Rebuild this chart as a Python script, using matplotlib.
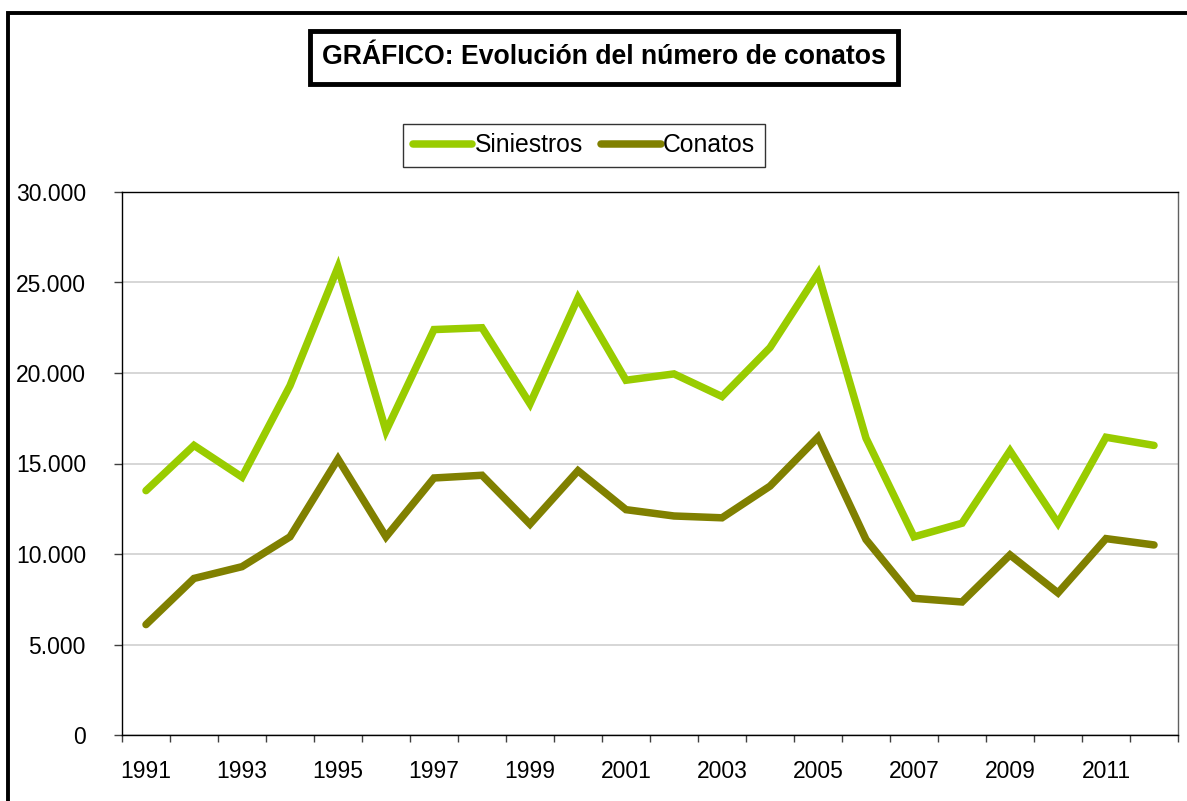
import matplotlib
matplotlib.use("Agg")
import matplotlib.pyplot as plt
import numpy as np
from matplotlib.patches import Rectangle
from matplotlib.ticker import FuncFormatter, FixedLocator

plt.rcParams['font.family'] = ['Liberation Sans', 'DejaVu Sans']

years = list(range(1991, 2013))
siniestros = [13500, 16000, 14250, 19300, 25850, 16800, 22400, 22500, 18300, 24150,
              19600, 19950, 18700, 21400, 25500, 16400, 10950, 11700, 15700, 11700,
              16450, 16000]
conatos = [6100, 8650, 9300, 10950, 15250, 10950, 14200, 14350, 11650, 14600,
           12450, 12100, 12000, 13750, 16450, 10800, 7550, 7350, 9950, 7850,
           10850, 10500]
series_names = ["Siniestros", "Conatos"]
title = "GRÁFICO: Evolución del número de conatos"

W, H = 1187, 801
fig = plt.figure(figsize=(W / 100, H / 100), dpi=100)
ax = fig.add_axes([122 / W, 1 - 735 / H, (1178 - 122) / W, (735 - 192) / H])

x = np.arange(len(years)) + 0.5
l1, = ax.plot(x, siniestros, color="#99CC00", lw=5.4, solid_joinstyle="miter",
              solid_capstyle="round", label=series_names[0], zorder=3)
l2, = ax.plot(x, conatos, color="#808000", lw=5.4, solid_joinstyle="miter",
              solid_capstyle="round", label=series_names[1], zorder=3)

ax.set_xlim(0, len(years))
ax.set_ylim(0, 30000)
ax.yaxis.set_major_locator(FixedLocator(np.arange(0, 30001, 5000)))
ax.yaxis.set_major_formatter(FuncFormatter(lambda v, p: f"{int(v):,}".replace(",", ".")))
ax.grid(axis="y", color="#D0D0D0", lw=1.2, zorder=0)

ax.set_xticks(np.arange(0, len(years) + 1))
ax.set_xticklabels([])
ax.set_xticks(x[::2], minor=True)
ax.set_xticklabels([str(y) for y in years[::2]], minor=True)
ax.tick_params(axis="x", which="major", length=5, width=1, direction="out", color="#404040")
ax.tick_params(axis="x", which="minor", length=0, pad=18, labelsize=16.5)
ax.tick_params(axis="y", length=6, width=1, direction="out", pad=20, labelsize=16.5, color="#404040")

for s in ["left", "bottom", "top"]:
    ax.spines[s].set_color("black")
    ax.spines[s].set_linewidth(1)
ax.spines["right"].set_color("#606060")
ax.spines["right"].set_linewidth(1)

# outer frame
fig.patches.append(Rectangle((8 / W, -0.1), 1.2, 1 - 13 / H + 0.1, transform=fig.transFigure,
                             fill=False, edgecolor="black", lw=2.8, zorder=0))

# title box
fig.patches.append(Rectangle((310 / W, 1 - 84 / H), 588 / W, 53 / H, transform=fig.transFigure,
                             facecolor="white", edgecolor="black", lw=3.5, zorder=1))
fig.text(604 / W, 1 - 57 / H, title, ha="center", va="center", fontsize=19.2,
         fontweight="bold", zorder=2)

leg = fig.legend(handles=[l1, l2], loc="center", bbox_to_anchor=(584 / W, 1 - 145.5 / H),
                 ncol=2, frameon=True, fancybox=False, fontsize=17.8, handlelength=2.4,
                 handletextpad=0.1, columnspacing=0.75, borderpad=0.4)
leg.get_frame().set_edgecolor("black")
leg.get_frame().set_linewidth(1)

fig.savefig("out.png", dpi=100)
